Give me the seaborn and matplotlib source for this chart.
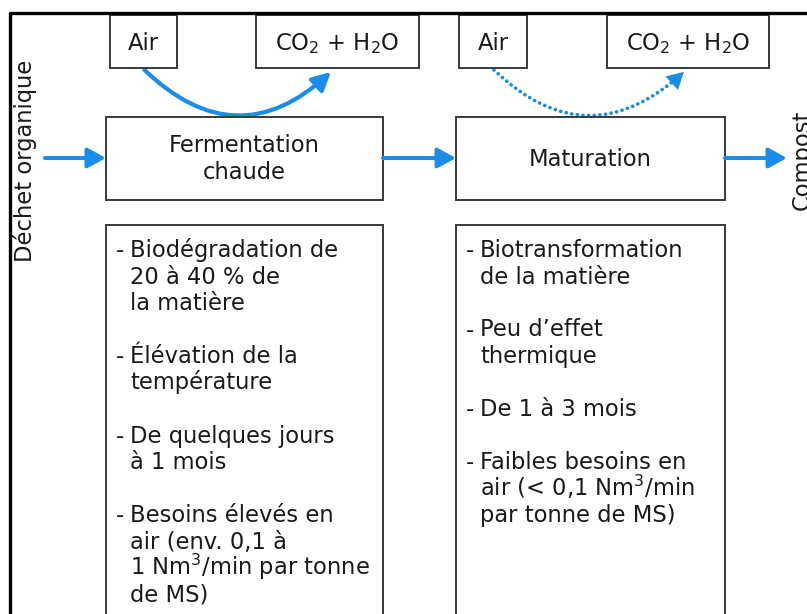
import matplotlib
matplotlib.use("Agg")
import matplotlib.pyplot as plt
import seaborn as sns
from matplotlib.patches import Rectangle, FancyArrowPatch

# Content of the diagram
flow_in = "Déchet organique"
flow_out = "Compost"
stages = ["Fermentation\nchaude", "Maturation"]
gas_in = ["Air", "Air"]
gas_out = ["CO$_2$ + H$_2$O", "CO$_2$ + H$_2$O"]
details = [
    ["- Biodégradation de", "20 à 40 % de", "la matière", "",
     "- Élévation de la", "température", "",
     "- De quelques jours", "à 1 mois", "",
     "- Besoins élevés en", "air (env. 0,1 à", "1 Nm$^3$/min par tonne", "de MS)"],
    ["- Biotransformation", "de la matière", "",
     "- Peu d’effet", "thermique", "",
     "- De 1 à 3 mois", "",
     "- Faibles besoins en", "air (< 0,1 Nm$^3$/min", "par tonne de MS)"],
]

sns.set_theme(style="white")
plt.rcParams['font.family'] = ['DejaVu Sans']

blue = "#1a8ceb"
edge = "#3a3a3a"
txt = "#1a1a1a"
fs = 16.3

fig = plt.figure(figsize=(8.07, 6.14), dpi=100)
ax = fig.add_axes([0, 0, 1, 1])
ax.set_xlim(0, 807)
ax.set_ylim(614, 0)
ax.axis('off')

# layout (pixels)
col_x = [(106, 383), (456, 725)]
air_x = [(110, 177), (459, 527)]
co2_x = [(256, 419), (607, 769)]
top_y = (15, 68)
stage_y = (117, 200)
detail_top = 225

def box(x0, x1, y0, y1):
    ax.add_patch(Rectangle((x0, y0), x1 - x0, y1 - y0, fill=True, facecolor="white",
                           edgecolor=edge, lw=1.4, zorder=2))

for i in range(2):
    (sx0, sx1), (ax0, ax1), (cx0, cx1) = col_x[i], air_x[i], co2_x[i]
    box(ax0, ax1, *top_y)
    box(cx0, cx1, *top_y)
    box(sx0, sx1, *stage_y)
    box(sx0, sx1, detail_top, 650)
    ax.text((ax0 + ax1) / 2, 50, gas_in[i], ha='center', va='baseline', fontsize=fs, color=txt, zorder=3)
    ax.text((cx0 + cx1) / 2, 50, gas_out[i], ha='center', va='baseline', fontsize=fs, color=txt, zorder=3)
    ax.text((sx0 + sx1) / 2, 159, stages[i], ha='center', va='center', fontsize=fs,
            color=txt, linespacing=1.25, zorder=3)

    # detail lines
    for k, line in enumerate(details[i]):
        if not line:
            continue
        y = 257 + 26.5 * k
        if line.startswith("- "):
            ax.text(sx0 + 10, y, "-", ha='left', va='baseline', fontsize=fs, color=txt, zorder=3)
            line = line[2:]
        ax.text(sx0 + 24, y, line, ha='left', va='baseline', fontsize=fs, color=txt, zorder=3)

    # aeration curve
    start = ((ax0 + ax1) / 2 - 1, top_y[1])
    end = (cx0 + 77 if i == 0 else cx0 + 79, top_y[1] + 2)
    if i == 0:
        ax.add_patch(FancyArrowPatch(start, end, connectionstyle="arc3,rad=0.48",
                                     arrowstyle="-|>,head_length=0.55,head_width=0.28",
                                     mutation_scale=20, lw=3.0, color=blue, zorder=1))
    else:
        curve = FancyArrowPatch(start, end, connectionstyle="arc3,rad=0.48", arrowstyle="-",
                                lw=2.7, color=blue, linestyle=(0, (0.01, 1.5)),
                                capstyle='round', zorder=1)
        ax.add_patch(curve)
        ax.add_patch(FancyArrowPatch(start, end, connectionstyle="arc3,rad=0.48",
                                     arrowstyle="-|>,head_length=0.6,head_width=0.33",
                                     mutation_scale=20, lw=0, color=blue, zorder=1))

# main flow arrows
for x0, x1 in [(45, 106), (383, 456), (725, 787)]:
    ax.add_patch(FancyArrowPatch((x0, 158), (x1, 158), arrowstyle="-|>,head_length=0.55,head_width=0.3",
                                 mutation_scale=20, lw=2.9, color=blue, shrinkA=0, shrinkB=0, zorder=3))

ax.text(25, 161, flow_in, rotation=90, ha='center', va='center', fontsize=fs, color=txt)
ax.text(791, 160, flow_out, rotation=90, ha='left', va='center', fontsize=fs, color=txt)

# frame lines
ax.plot([10, 10, 820], [640, 13, 13], color="black", lw=2.4, solid_capstyle='projecting', zorder=4)

fig.savefig("out.png", dpi=100)
